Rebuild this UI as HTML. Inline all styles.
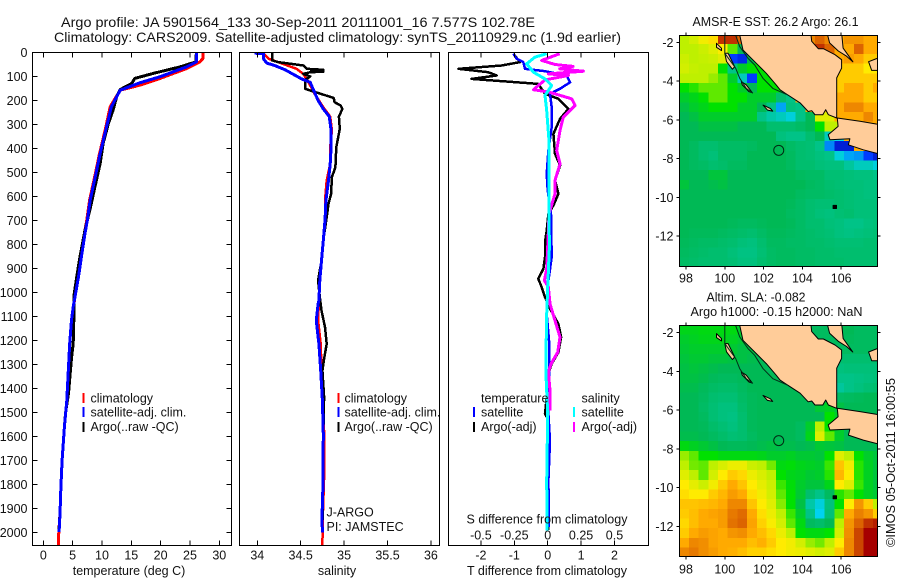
<!DOCTYPE html>
<html lang="en">
<head>
<meta charset="utf-8">
<title>Argo profile 5901564_133</title>
<style>
html,body{margin:0;padding:0;background:#fff;}
svg{display:block;}
text{font-family:"Liberation Sans",sans-serif;font-size:12.5px;fill:#111;}
.title{font-size:14px;}
.mt{font-size:12.5px;}
</style>
</head>
<body>
<svg id="chart" xmlns="http://www.w3.org/2000/svg" width="900" height="580" viewBox="0 0 900 580">
  <defs>
    <clipPath id="clip-temp"><rect x="32.5" y="52.5" width="199" height="493"/></clipPath>
    <clipPath id="clip-sal"><rect x="239.5" y="52.5" width="200" height="493"/></clipPath>
    <clipPath id="clip-diff"><rect x="448.5" y="52.5" width="200" height="493"/></clipPath>
    <clipPath id="clip-map1"><rect x="679.5" y="35.5" width="198" height="231"/></clipPath>
    <clipPath id="clip-map2"><rect x="679.5" y="325.5" width="198" height="231"/></clipPath>
  </defs>

  <text class="title" x="61" y="27" textLength="474" lengthAdjust="spacingAndGlyphs">Argo profile: JA 5901564_133 30-Sep-2011 20111001_16 7.577S 102.78E</text>
  <text class="title" x="54" y="42" textLength="567" lengthAdjust="spacingAndGlyphs">Climatology: CARS2009. Satellite-adjusted climatology: synTS_20110929.nc (1.9d earlier)</text>

  <g id="p-temp"></g>
  <g id="p-sal"></g>
  <g id="p-diff"></g>
  <g id="p-map1"></g>
  <g id="p-map2"></g>

  <text x="129" y="575" text-anchor="middle">temperature (deg C)</text>
  <text x="337" y="575" text-anchor="middle">salinity</text>
  <text x="547" y="575" text-anchor="middle">T difference from climatology</text>
  <text x="547" y="523.5" text-anchor="middle">S difference from climatology</text>

  <g>
    <rect x="82.5" y="393" width="2" height="10" fill="#f00"/>
    <rect x="82.5" y="407" width="2" height="10" fill="#00f"/>
    <rect x="82.5" y="422" width="2" height="10" fill="#000"/>
    <text x="90.5" y="402.5">climatology</text>
    <text x="90.5" y="416.5">satellite-adj. clim.</text>
    <text x="90.5" y="431">Argo(..raw -QC)</text>
  </g>
  <g>
    <rect x="337.5" y="393" width="2" height="10" fill="#f00"/>
    <rect x="337.5" y="407" width="2" height="10" fill="#00f"/>
    <rect x="337.5" y="422" width="2" height="10" fill="#000"/>
    <text x="344.5" y="402.5">climatology</text>
    <text x="344.5" y="416.5">satellite-adj. clim.</text>
    <text x="344.5" y="431">Argo(..raw -QC)</text>
  </g>
  <text x="326.5" y="516.5">J-ARGO</text>
  <text x="326.5" y="531">PI: JAMSTEC</text>

  <g>
    <text x="481" y="402.5">temperature</text>
    <rect x="473" y="407" width="2" height="10" fill="#00f"/>
    <text x="481" y="416.5">satellite</text>
    <rect x="473" y="422" width="2" height="10" fill="#000"/>
    <text x="481" y="431">Argo(-adj)</text>
    <text x="581.5" y="402.5">salinity</text>
    <rect x="573" y="407" width="2" height="10" fill="#0ff"/>
    <text x="581.5" y="416.5">satellite</text>
    <rect x="573" y="422" width="2" height="10" fill="#f0f"/>
    <text x="581.5" y="431">Argo(-adj)</text>
  </g>

  <text class="mt" x="692.5" y="26" textLength="166" lengthAdjust="spacingAndGlyphs">AMSR-E SST: 26.2 Argo: 26.1</text>
  <text class="mt" x="706.5" y="301.5" textLength="99" lengthAdjust="spacingAndGlyphs">Altim. SLA: -0.082</text>
  <text class="mt" x="690.5" y="316" textLength="172" lengthAdjust="spacingAndGlyphs">Argo h1000: -0.15 h2000: NaN</text>
  <text class="mt" transform="translate(895,547) rotate(-90)" textLength="169" lengthAdjust="spacingAndGlyphs">©IMOS 05-Oct-2011 16:00:55</text>
</svg>

<script>
// ---- axis tick data ----
const depthTicks = [0,100,200,300,400,500,600,700,800,900,1000,1100,1200,1300,1400,1500,1600,1700,1800,1900,2000];
const tempTicks = [0,5,10,15,20,25,30];
const salTicks = [34,34.5,35,35.5,36];
const salTickLabels = ['34','34.5','35','35.5','36'];
const tDiffTicks = [-2,-1,0,1,2];
const sDiffTicks = [-0.5,-0.25,0,0.25,0.5];
const sDiffTickLabels = ['-0.5','-0.25','0','0.25','0.5'];
const lonTicks = [98,100,102,104,106];
const latTicks = [-2,-4,-6,-8,-10,-12];

// ---- temperature profiles ----
const tempClimDepth = [0,25,39,67,108,136,157,185,226,317,420,525,615,700,754,851,935,1018,1115,1212,1310,1449,1560,1699,1810,1921,1998,2055];
const tempClimValue = [27.2,27.2,26.7,24.4,19.9,16.5,13.1,12.4,11.4,10.6,9.6,8.7,7.9,7.4,7.0,6.5,6,5.4,4.8,4.5,4.3,4,3.6,3.2,3,2.85,2.65,2.55];
const tempArgoDepth = [0,39,60,70,87,108,129,154,185,240,296,379,462,560,643,740,851,935,1018,1115,1212,1273,1420,1500,1560,1699,1810,1921,1985];
const tempArgoValue = [26.1,26,23.3,21.6,18.75,15.6,15.06,13.1,12.5,11.9,11.1,10.2,9.7,8.8,8.07,7.1,6.25,5.7,5.2,5.2,5.1,4.8,4.3,3.8,3.6,3.2,3,2.85,2.7];
const tempAdjDepth = [0,39,60,101,126,157,185,226,317,420,525,615,700,754,851,935,1018,1060,1115,1212,1310,1449,1560,1699,1810,1921,1998];
const tempAdjValue = [26.1,26.1,24.4,19.9,16.5,13.1,12.5,11.6,10.7,9.7,8.8,8,7.5,7.1,6.5,6,5.4,5.1,4.8,4.5,4.3,4,3.6,3.2,3,2.85,2.7];

// ---- salinity profiles ----
const salClimDepth = [3,26,40,68,89,137,172,228,267,325,394,464,533,617,700,783,867,950,1033,1117,1214,1325,1450,1589,1769,1936,2055];
const salClimValue = [34.07,34.13,34.24,34.45,34.53,34.61,34.66,34.76,34.84,34.86,34.84,34.84,34.8,34.78,34.78,34.76,34.74,34.72,34.71,34.7,34.73,34.74,34.76,34.77,34.77,34.755,34.75];
const salArgoDepth = [3,33,40,54,68,72,74,76,78,80,82,89,100,114,151,161,189,207,221,235,267,318,394,478,519,589,631,686,783,867,950,1019,1075,1144,1214,1276,1325,1436,1589,1797,1980];
const salArgoValue = [34.17,34.17,34.24,34.53,34.57,34.76,34.62,34.76,34.62,34.76,34.61,34.53,34.61,34.55,34.55,34.63,34.88,34.89,34.96,34.98,34.94,34.95,34.91,34.9,34.86,34.85,34.82,34.8,34.76,34.74,34.7,34.72,34.74,34.78,34.8,34.77,34.75,34.77,34.76,34.757,34.75];
const salAdjDepth = [3,4,26,44,54,72,92,110,124,158,200,235,267,325,394,464,533,617,700,783,867,950,1033,1047,1117,1214,1325,1450,1589,1797,1936,2000];
const salAdjValue = [33.97,34.07,34.07,34.11,34.2,34.32,34.42,34.51,34.61,34.65,34.7,34.76,34.83,34.85,34.85,34.84,34.82,34.79,34.78,34.76,34.74,34.72,34.71,34.7,34.68,34.71,34.73,34.75,34.76,34.757,34.745,34.75];

// ---- difference profiles ----
const tDiffArgoDepth = [5,40,54,68,82,96,110,131,172,193,235,276,339,422,471,533,589,637,672,742,790,853,901,943,978,1019,1068,1131,1186,1249,1297,1339,1367,1506,1530,1990];
const tDiffArgoValue = [-1.03,-0.83,-1.38,-2.67,-1.78,-1.53,-2.28,-0.28,-0.08,0.32,0.62,0.37,0.17,0.22,0.37,0.22,0.32,0.17,0.02,-0.03,-0.08,-0.08,-0.13,-0.28,-0.18,-0.08,0.07,0.32,0.4,0.32,0.12,0.02,0.02,-0.08,0.02,0.02];
const tDiffAdjDepth = [5,26,40,68,78,96,124,151,172,228,311,408,505,575,672,853,950,1089,1200,1367,1506,1617,1783,1978];
const tDiffAdjValue = [-1.03,-0.93,-0.73,-0.68,-0.08,0.57,0.67,0.37,0.07,0.12,0.12,0.02,-0.03,0,0.1,0.12,0.02,-0.03,0.04,0.04,0.02,0.07,0.02,0.04];
const sDiffArgoDepth = [5,33,50,58,68,78,89,96,114,155,165,193,221,269,325,408,464,533,589,644,672,742,811,901,950,978,1047,1117,1186,1249,1297,1332,1408,1492];
const sDiffArgoValue = [0.09,-0.045,0.055,0.19,0.09,0.267,0.005,0.155,-0.02,-0.107,0.01,0.18,0.205,0.117,0.092,0.067,0.092,0.055,0.055,0.025,0.01,0.005,0,-0.0075,-0.025,0.005,0.0175,0.055,0.092,0.075,0.025,0.005,0.0175,0.0175];
const sDiffAdjDepth = [5,19,47,82,110,137,179,242,367,533,672,811,978,1089,1228,1353,1506,1783,1992];
const sDiffAdjValue = [-0.0075,-0.095,-0.157,-0.107,-0.02,0.03,-0.02,-0.0075,0.01,0.01,0.01,0.0125,0,-0.0075,-0.012,-0.012,0,-0.0075,-0.005];

// ---- map grids: colour-scale level per 0.5 degree cell (rows north to south) ----
const sstRows = [
[6,6.3,6.8,7.2,9.5,9.5,9,8.5,8,8,8,8,8,8.5,9,8.5,8,8.3,8.3,8,8],
[6,6,6.2,6.5,7,5.5,4,5,5,8,8,8,8,9,9.5,9,8,8,9,8,8],
[6.2,6,6.1,6.2,6.5,1,0.7,4,5,8,8,8,8,8,8,8,8,8.2,8,7.5,7.5],
[6.3,6.1,6,6,5,3,4.5,5,5,8,8,8,8,8,8,8,7.5,7.5,7.5,7,7],
[6,6,6,5.8,5.5,4.5,2.5,1,5,5,8,8,8,8,8,8,7.5,7.5,7.5,7.5,7.5],
[5,5.2,5.5,5.5,5.5,5,4.5,4,5,5,5,8,8,8,8,8,7.5,8,8,7.5,8],
[4.5,4.7,5,5.5,5.5,5,5,4.5,4.5,4.5,3.5,3,8,8,8,8,8,8,8,7.5,7.5],
[4.2,4.5,4.7,5,5,5,4.5,4.5,4,3,1.7,3.2,3,8,8,8,8,8.5,8.5,8,8],
[4,4.2,4.5,4.5,4.5,4.5,4.5,4.5,3,2.7,2.5,2.2,3,4,6.5,6.5,8,8,8,8.5,8],
[4,4,4.2,4.2,4.2,4.2,4,4,4,3.5,3.5,3.5,3.7,4,5,6,6,8,8,8,8],
[4,4,4,4,4,4,4,4,4,4,3.2,3,3,3.5,4,2.5,2,8,8,8,8],
[4,3.8,3.5,3.5,3.7,3.7,3.7,3.8,4,4,4,3.7,3.5,3.4,3,1.5,0.5,0.5,8,8,8],
[4,3.8,3.5,3.3,3.7,3.7,3.7,4,4,4,4,3.8,3.5,3.4,3.2,3,2.2,1.7,1.6,1,0.5],
[4,3.8,3.7,3.5,3.6,3.8,3.8,4,4,4,4,3.8,3.5,3.5,3.3,3.2,3.2,2.8,2.5,2.5,2.2],
[4,4,4,4.3,4.3,4,4,4,4,4,4,4,3.8,3.7,3.7,3.4,3.4,3.3,3.2,3.2,3],
[4.3,4,4,4.1,4.2,4,4,4,4,4,4,4,4,3.8,3.7,3.5,3.4,3.3,3.3,3.2,3.2],
[4,4,4,4,4,4,4,4,4,4,4,4,3.8,3.7,3.7,3.6,3.5,3.4,3.3,3.2,3.2],
[4,4,4,4,4,4,4,4,4,4,4,3.9,3.7,3.5,3.4,3.4,3.5,3.4,3.3,3.3,3.3],
[4,4,4,4,4,4,4,4,4,4,4,3.8,3.7,3.5,3.3,3.2,3.4,3.5,3.3,3.3,3.3],
[4,4,4,4,4,3.9,3.8,3.8,3.9,4,4,3.9,3.7,3.5,3.5,3.3,3.2,3,3,3.2,3.3],
[4,3.9,3.9,3.9,3.8,3.7,3.6,3.5,3.7,3.9,3.9,3.8,3.7,3.6,3.5,3.4,3.2,3.1,3.2,3.3,3.4],
[3.9,3.8,3.7,3.7,3.6,3.5,3.3,3.2,3.5,3.8,3.8,3.7,3.7,3.6,3.6,3.5,3.4,3.4,3.4,3.5,3.5],
[3.8,3.7,3.6,3.5,3.5,3.3,3.1,3.1,3.4,3.7,3.8,3.8,3.7,3.7,3.6,3.6,3.5,3.5,3.5,3.5,3.5],
[3.7,3.6,3.5,3.5,3.5,3.4,3.2,3.2,3.5,3.7,3.8,3.8,3.7,3.7,3.6,3.6,3.6,3.5,3.5,3.5,3.5]
];
const slaRows = [
[4.7,4.7,4.8,4.8,4.8,4.8,4.5,4.5,4,4,4,4,4,3.8,3.8,3.8,4,4,3.8,3.8,3.8],
[4.5,4.6,4.7,4.7,4.7,4.6,4.4,4.3,4,4,4,4,4,3.8,3.8,3.8,3.9,3.9,3.8,3.8,3.8],
[4.4,4.5,4.5,4.5,4.5,4.4,4.2,4.2,4,4,4,4,4,3.8,3.8,3.8,3.8,3.8,3.8,3.8,3.8],
[4.3,4.4,4.4,4.3,4.3,4.2,4.2,4.1,4,4,4,4,4,4,4,4,3.5,3.5,3.5,3.5,3.5],
[4.2,4.3,4.2,4.1,4,4,4,4,4,3.9,4,4,4,4,4,4,3.2,3.3,3.3,3.3,3.3],
[4.2,4.2,4.1,3.9,3.8,3.8,3.9,4,4,4,4,4,4,4,4,4,3,3,3.1,3.2,3.3],
[4.1,4.1,3.9,3.7,3.6,3.6,3.8,4,4,4,4,4,4,4,4,4,2.8,3,3.2,3.4,3.5],
[4,4,3.8,3.5,3.4,3.4,3.7,3.9,4,4,4,4,4,4,4,4,3.7,3.8,3.9,4,4],
[4,4,3.7,3.4,3.2,3.2,3.6,3.9,4,4,4,4,4,4,4.4,4.6,4.2,4,4,4,4],
[4,4,3.8,3.4,3.2,3.1,3.5,3.9,4,4,4,4,4,4,4,5,4.5,4,4,4,4],
[4,4,3.9,3.6,3.4,3.2,3.5,3.9,4,4,4,4,3.8,4.5,6,5,4.5,4,4,4,4],
[4.1,4.1,4,3.8,3.6,3.4,3.5,3.8,4,4,4,4,3.8,4.7,6.5,5.5,4.5,4,4,4,4],
[4.8,4.6,4.4,4.2,4,3.9,3.9,4,4.1,4.2,4.1,4.1,4,4.1,4.4,4.3,4.2,4,4,4,4],
[5.8,5.5,5,5,4.8,4.8,4.8,4.8,4.7,4.5,4.5,4.6,4.4,4.4,4.3,5,6.5,6,5,4.5,4.3],
[6,5.6,5.5,6,6.4,6.7,6.7,6.2,6,5.6,4.8,4.9,4.7,4.6,4.5,5.3,7.6,6.8,5.2,4.6,4.3],
[6.5,6,5.5,6.3,7,7.5,7.3,6.7,6.4,6,5,4.7,4.6,4.4,4.5,5.2,7.8,7,5.2,4.6,4.3],
[7,6.6,6.2,6.8,7.5,8,7.6,7,6.6,6.2,5.3,4.9,4.5,4.3,4.3,4.7,7,6.5,5.3,4.6,4.3],
[7.2,7,7,7.5,7.8,8.2,8,7.2,6.8,6.3,5.5,5,4.4,3.5,3,3.8,5.2,5.5,5,4.6,4.4],
[7.6,7.6,7.7,7.8,8,8.5,8.5,7.6,7,6.5,5.7,5,4.2,2.7,2.2,3.2,5,7,8.3,7.5,6],
[7.5,7.7,8,8.1,8.2,8.7,8.9,8,7.2,6.7,6,5.3,4.5,3,2,3.3,5.5,8,8.6,8.3,7.5],
[7.3,7.7,8,8,8.2,8.8,9,8.1,7.4,6.9,6.3,5.5,4.8,3.8,3.6,4,6,8.3,9,9.5,9.7],
[7.5,8,8.2,8.1,8,8.3,8.4,8,7.7,7.3,6.7,6,5,4.8,4.8,5,6.3,8.4,9.3,10,10],
[8,8.5,8.4,8.1,8,8,8,7.7,7.9,7.5,7,6.8,6.3,5.8,5.6,6,7,8.5,9.3,10,10],
[8.5,8.7,8.4,8.2,8,7.9,7.7,7.4,7.4,7.2,7,6.8,6.7,6.5,6.3,6.5,7.5,8.5,9.3,10,10]
];

// ---- geography: lon/lat vertices ----
const sumatraLon = [100.74,100.94,101.62,102.14,102.65,102.85,103.1,103.88,104.3,104.48,104.65,105.05,105.2,105.34,105.77,105.77,106.02,106.02,105.68,105.08,104.82,104.48,104.43];
const sumatraLat = [-1.5,-2.40,-3.08,-3.6,-4.2,-4.45,-4.62,-5.13,-5.57,-5.53,-5.74,-5.74,-5.48,-5.74,-5.91,-3.84,-3.33,-2.9,-2.64,-2.33,-2.33,-1.95,-1.5];
const bangkaLon = [105.27,106.02,106.1,106.6,106.28,105.85,105.4];
const bangkaLat = [-1.5,-1.5,-2.3,-3.0,-2.72,-2.45,-2.03];
const eastIslandLon = [107.41,107.82,108.1,108.1,107.57];
const eastIslandLat = [-3.0,-2.84,-2.84,-3.45,-3.45];
const javaLon = [105.8,106.97,107.8,108.1,108.1,107.14,106.37,106.45,105.42,105.33,105.84];
const javaLat = [-5.91,-6.08,-6.22,-6.25,-7.8,-7.55,-7.29,-6.98,-7.03,-6.77,-6.34];
const siberutLon = [100.0,100.17,100.51,100.39,100.09];
const siberutLat = [-2.57,-2.57,-3.26,-3.39,-2.99];
const siporaLon = [99.57,99.83,99.83,99.57];
const siporaLat = [-2.05,-2.31,-2.43,-2.26];
const pagaiLon = [100.85,101.11,101.42,101.25,100.9];
const pagaiLat = [-4.03,-4.2,-4.6,-4.55,-4.2];
const engganoLon = [101.97,102.35,102.47,102.2];
const engganoLat = [-5.24,-5.42,-5.55,-5.5];
const christmasLon = [105.58,105.76,105.76,105.58];
const christmasLat = [-10.42,-10.42,-10.58,-10.58];
const isobathALon = [100,100,100.56,100.77,101.11,101.45];
const isobathALat = [-1.5,-2.57,-3.34,-3.86,-4.38,-4.63];
const isobathBLon = [100.51,100.77,101.2,101.54,101.97,102.48,103.25];
const isobathBLat = [-1.5,-2.22,-2.83,-3.17,-3.86,-4.38,-4.72];
const argoLon = 102.78;
const argoLat = -7.577;

// ---- scales ----
const depthY = d => 52.5 + d * 0.24;
const tempX = v => 43.3 + v * 5.867;
const salX = v => 257.3 + (v - 34) * 86.8;
const tDiffX = v => 547.7 + v * 33.4;
const sDiffX = v => 547.7 + v * 133.6;
const lonX = v => 686 + (v - 98) * 19.4;
const map1LatY = v => 42.3 + (-2 - v) * 19.37;
const map2LatY = v => 332.6 + (-2 - v) * 19.37;
const colourStops = [[0,0,170],[0,60,255],[0,210,240],[0,195,135],[0,185,85],[0,225,0],[190,240,0],[255,235,0],[255,170,0],[220,100,0],[165,0,0]];
const NS = 'http://www.w3.org/2000/svg';

function levelColour(v) {
  const i = Math.max(0, Math.min(9, Math.floor(v)));
  const f = Math.max(0, Math.min(1, v - i));
  const a = colourStops[i], b = colourStops[i + 1];
  return 'rgb(' + a.map((c, k) => Math.round(c + (b[k] - c) * f)).join(',') + ')';
}
function add(parent, tag, attrs, name, text) {
  const el = document.createElementNS(NS, tag);
  for (const k in attrs) el.setAttribute(k, attrs[k]);
  
  
  if (text !== undefined) el.textContent = text;
  parent.appendChild(el);
  return el;
}
function tickLine(g, x1, y1, x2, y2, name) {
  add(g, 'line', {x1: x1, y1: y1, x2: x2, y2: y2, stroke: '#000', 'stroke-width': 1, 'shape-rendering': 'crispEdges'}, name);
}
function frame(g, x, y, w, h, name) {
  add(g, 'rect', {x: x, y: y, width: w, height: h, fill: 'none', stroke: '#000', 'stroke-width': 1, 'shape-rendering': 'crispEdges'}, name);
}
function profile(g, depths, values, xs, colour, name, width) {
  const pts = depths.map((d, i) => xs(values[i]).toFixed(1) + ',' + depthY(d).toFixed(1)).join(' ');
  add(g, 'polyline', {points: pts, fill: 'none', stroke: colour, 'stroke-width': width, 'stroke-linejoin': 'round', 'shape-rendering': 'crispEdges'}, name);
}
function xTicks(g, ticks, xs, top, bottom) {
  ticks.forEach(t => {
    tickLine(g, xs(t), bottom, xs(t), bottom - 5, 'x-tick-bottom');
    tickLine(g, xs(t), top, xs(t), top + 5, 'x-tick-top');
  });
}

// temperature panel
const pTemp = document.getElementById('p-temp');
const gTemp = add(pTemp, 'g', {'clip-path': 'url(#clip-temp)'}, 'temperature-series');
profile(gTemp, tempClimDepth, tempClimValue, tempX, '#f00', 'temperature-climatology-line', 3);
profile(gTemp, tempArgoDepth, tempArgoValue, tempX, '#000', 'temperature-argo-line', 3);
profile(gTemp, tempAdjDepth, tempAdjValue, tempX, '#00f', 'temperature-satellite-line', 3);
frame(pTemp, 32.5, 52.5, 199, 493, 'temperature-frame');
xTicks(pTemp, tempTicks, tempX, 52.5, 545.5);
tempTicks.forEach(t => {
  add(pTemp, 'text', {x: tempX(t), y: 559.5, 'text-anchor': 'middle'}, 'temperature-tick-label', String(t));
});
depthTicks.forEach(d => {
  tickLine(pTemp, 32.5, depthY(d), 37.5, depthY(d), 'depth-tick-left');
  tickLine(pTemp, 231.5, depthY(d), 226.5, depthY(d), 'depth-tick-right');
  add(pTemp, 'text', {x: 27.5, y: depthY(d) + 4.5, 'text-anchor': 'end'}, 'depth-tick-label', String(d));
});

// salinity panel
const pSal = document.getElementById('p-sal');
const gSal = add(pSal, 'g', {'clip-path': 'url(#clip-sal)'}, 'salinity-series');
profile(gSal, salClimDepth, salClimValue, salX, '#f00', 'salinity-climatology-line', 2.5);
profile(gSal, salArgoDepth, salArgoValue, salX, '#000', 'salinity-argo-line', 2.5);
profile(gSal, salAdjDepth, salAdjValue, salX, '#00f', 'salinity-satellite-line', 3);
frame(pSal, 239.5, 52.5, 200, 493, 'salinity-frame');
xTicks(pSal, salTicks, salX, 52.5, 545.5);
salTicks.forEach((t, i) => {
  add(pSal, 'text', {x: salX(t), y: 559.5, 'text-anchor': 'middle'}, 'salinity-tick-label', salTickLabels[i]);
});

// difference panel
const pDiff = document.getElementById('p-diff');
const gDiff = add(pDiff, 'g', {'clip-path': 'url(#clip-diff)'}, 'difference-series');
profile(gDiff, tDiffArgoDepth, tDiffArgoValue, tDiffX, '#000', 't-diff-argo-line', 2.5);
profile(gDiff, tDiffAdjDepth, tDiffAdjValue, tDiffX, '#00f', 't-diff-satellite-line', 2.5);
profile(gDiff, sDiffArgoDepth, sDiffArgoValue, sDiffX, '#f0f', 's-diff-argo-line', 3);
profile(gDiff, sDiffAdjDepth, sDiffAdjValue, sDiffX, '#0ff', 's-diff-satellite-line', 3);
frame(pDiff, 448.5, 52.5, 200, 493, 'difference-frame');
xTicks(pDiff, tDiffTicks, tDiffX, 52.5, 545.5);
tDiffTicks.forEach(t => {
  add(pDiff, 'text', {x: tDiffX(t), y: 559.5, 'text-anchor': 'middle'}, 't-diff-tick-label', String(t));
});
sDiffTicks.forEach((t, i) => {
  add(pDiff, 'text', {x: sDiffX(t), y: 539.5, 'text-anchor': 'middle'}, 's-diff-tick-label', sDiffTickLabels[i]);
});

// maps
function drawMap(id, rows, latY, clipId, top, bottom, labelY, prefix) {
  const p = document.getElementById(id);
  const g = add(p, 'g', {'clip-path': 'url(#' + clipId + ')'}, prefix + '-map-area');
  rows.forEach((row, j) => {
    row.forEach((v, i) => {
      const lon0 = 97.65 + i * 0.5, lat0 = -1.6 - j * 0.5;
      const x0 = lonX(lon0), y0 = latY(lat0);
      add(g, 'rect', {x: x0.toFixed(1), y: y0.toFixed(1), width: (lonX(lon0 + 0.5) - x0 + 0.3).toFixed(1), height: (latY(lat0 - 0.5) - y0 + 0.3).toFixed(1), fill: levelColour(v), 'shape-rendering': 'crispEdges'}, prefix + '-cell');
    });
  });
  const poly = (lons, lats, name, fill) => {
    const pts = lons.map((l, i) => lonX(l).toFixed(1) + ',' + latY(lats[i]).toFixed(1)).join(' ');
    add(g, 'polygon', {points: pts, fill: fill, stroke: '#000', 'stroke-width': 1, 'stroke-linejoin': 'round'}, name);
  };
  poly(sumatraLon, sumatraLat, 'sumatra-land', '#ffcc99');
  poly(bangkaLon, bangkaLat, 'bangka-land', '#ffcc99');
  poly(eastIslandLon, eastIslandLat, 'east-island-land', '#ffcc99');
  poly(javaLon, javaLat, 'java-land', '#ffcc99');
  poly(siberutLon, siberutLat, 'siberut-island', '#ffcc99');
  poly(siporaLon, siporaLat, 'sipora-island', '#ffcc99');
  poly(pagaiLon, pagaiLat, 'pagai-island', '#ffcc99');
  poly(engganoLon, engganoLat, 'enggano-island', '#ffcc99');
  poly(christmasLon, christmasLat, 'christmas-island', '#000');
  const line = (lons, lats, name) => {
    const pts = lons.map((l, i) => lonX(l).toFixed(1) + ',' + latY(lats[i]).toFixed(1)).join(' ');
    add(g, 'polyline', {points: pts, fill: 'none', stroke: '#003018', 'stroke-width': 1}, name);
  };
  line(isobathALon, isobathALat, 'isobath-west');
  line(isobathBLon, isobathBLat, 'isobath-east');
  add(g, 'circle', {cx: lonX(argoLon), cy: latY(argoLat), r: 5, fill: 'none', stroke: '#002a14', 'stroke-width': 1}, 'argo-float-position');
  frame(p, 679.5, top, 198, bottom - top, prefix + '-map-frame');
  lonTicks.forEach(t => {
    tickLine(p, lonX(t), bottom, lonX(t), bottom + 3, 'lon-tick-bottom');
    tickLine(p, lonX(t), top, lonX(t), top - 3, 'lon-tick-top');
    add(p, 'text', {x: lonX(t), y: labelY, 'text-anchor': 'middle'}, 'lon-tick-label', String(t));
  });
  latTicks.forEach(t => {
    tickLine(p, 679.5, latY(t), 676.5, latY(t), 'lat-tick-left');
    tickLine(p, 877.5, latY(t), 880.5, latY(t), 'lat-tick-right');
    add(p, 'text', {x: 673.5, y: latY(t) + 4.5, 'text-anchor': 'end'}, 'lat-tick-label', String(t));
  });
}
drawMap('p-map1', sstRows, map1LatY, 'clip-map1', 35.5, 266.5, 282.5, 'sst');
drawMap('p-map2', slaRows, map2LatY, 'clip-map2', 325.5, 556.5, 573.5, 'sla');
</script>
</body>
</html>
